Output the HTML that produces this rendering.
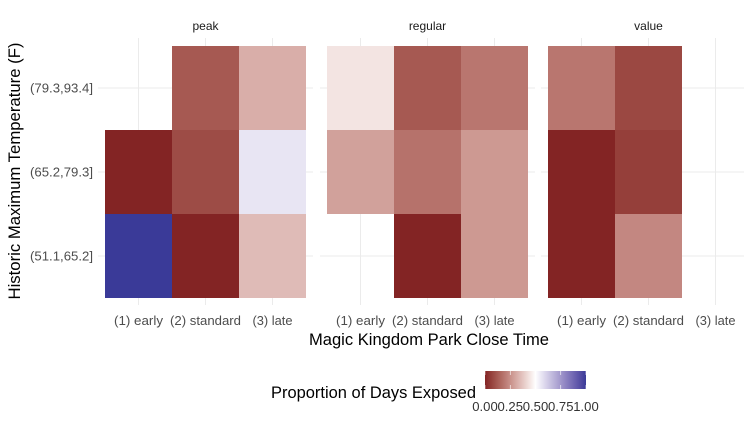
<!DOCTYPE html>
<html><head><meta charset="utf-8"><style>
body{margin:0;background:#fff;}
svg{display:block;font-family:"Liberation Sans",Arial,sans-serif;}
</style></head><body>
<svg id="c" width="744" height="426"></svg>
<script>
const facets=["peak","regular","value"];
const closeTimes=["(1) early","(2) standard","(3) late"];
const tempBins=["(51.1,65.2]","(65.2,79.3]","(79.3,93.4]"];
// values[facet][tempBin][closeTime], null = missing
const peakValues=[[1.0,0.0,0.35],[0.0,0.09,0.56],[null,0.12,0.32]];
const regularValues=[[null,0.0,0.27],[0.29,0.18,0.27],[0.44,0.12,0.19]];
const valueValues=[[0.0,0.23,null],[0.0,0.06,null],[0.19,0.08,null]];
const legendTicks=[0,0.25,0.5,0.75,1];
const legendLabels=["0.00","0.25","0.50","0.75","1.00"];
const allValues=[peakValues,regularValues,valueValues];

const NS="http://www.w3.org/2000/svg";
const svg=document.getElementById('c');
function mk(t,a,p){const e=document.createElementNS(NS,t);for(const k in a)e.setAttribute(k,a[k]);(p||svg).appendChild(e);return e;}
// Lab interpolation
function s2l(c){c/=255;return c<=0.04045?c/12.92:Math.pow((c+0.055)/1.055,2.4);}
function l2s(c){c=c<=0.0031308?12.92*c:1.055*Math.pow(c,1/2.4)-0.055;return Math.max(0,Math.min(255,Math.round(c*255)));}
function toLab(rgb){const [r,g,b]=rgb.map(s2l);
 let X=(0.4124*r+0.3576*g+0.1805*b)/0.95047,Y=0.2126*r+0.7152*g+0.0722*b,Z=(0.0193*r+0.1192*g+0.9505*b)/1.08883;
 const f=t=>t>0.008856?Math.cbrt(t):7.787*t+16/116;X=f(X);Y=f(Y);Z=f(Z);
 return [116*Y-16,500*(X-Y),200*(Y-Z)];}
function fromLab(l){let Y=(l[0]+16)/116,X=l[1]/500+Y,Z=Y-l[2]/200;
 const fi=t=>t*t*t>0.008856?t*t*t:(t-16/116)/7.787;X=fi(X)*0.95047;Y=fi(Y);Z=fi(Z)*1.08883;
 const r=3.2406*X-1.5372*Y-0.4986*Z,g=-0.9689*X+1.8758*Y+0.0415*Z,b=0.0557*X-0.2040*Y+1.0570*Z;
 return [l2s(r),l2s(g),l2s(b)];}
const lo=toLab([131,36,36]),mid=toLab([255,255,255]),hi=toLab([58,58,152]);
function color(v){let a,b,t;if(v<0.5){a=lo;b=mid;t=v/0.5;}else{a=mid;b=hi;t=(v-0.5)/0.5;}
 return `rgb(${fromLab(a.map((x,i)=>x+(b[i]-x)*t)).join(',')})`;}
const panelX0=[105,327,548], cellW=67, cellH=84, yTop=46;
const tickW={"(1) early":49,"(2) standard":71,"(3) late":40};
function xPos(f,j){return panelX0[f]+j*cellW;}
function yPos(i){return yTop+(2-i)*cellH;}
const grid=mk('g',{});  
facets.forEach((fname,f)=>{
  const x0=panelX0[f]-7,x1=Math.min(744,panelX0[f]+3*cellW+7);
  tempBins.forEach((tb,i)=>{mk('line',{x1:x0,x2:x1,y1:yPos(i)+cellH/2,y2:yPos(i)+cellH/2,stroke:'#ebebeb','stroke-width':1},grid);});
  closeTimes.forEach((ct,j)=>{mk('line',{x1:xPos(f,j)+cellW/2,x2:xPos(f,j)+cellW/2,y1:38,y2:305,stroke:'#ebebeb','stroke-width':1},grid);});
  const st=mk('text',{x:panelX0[f]+1.5*cellW,y:30,'text-anchor':'middle','font-size':12,fill:'#1a1a1a'});st.textContent=fname;
  
  
  closeTimes.forEach((ct,j)=>{const t=mk('text',{x:xPos(f,j)+cellW/2,y:325,'text-anchor':'middle','font-size':12.5,fill:'#4d4d4d',textLength:tickW[ct],lengthAdjust:'spacingAndGlyphs'});t.textContent=ct;
    
    });
  allValues[f].forEach((row,i)=>row.forEach((v,j)=>{if(v===null)return;
    const r=mk('rect',{x:xPos(f,j),y:yPos(i),width:cellW,height:cellH,fill:color(v)});
    
    }));
});
tempBins.forEach((tb,i)=>{const t=mk('text',{x:93,y:yPos(i)+cellH/2+4.5,'text-anchor':'end','font-size':12.5,fill:'#4d4d4d',textLength:63,lengthAdjust:'spacingAndGlyphs'});t.textContent=tb;
  
  });
const yt=mk('text',{x:0,y:0,transform:'translate(20,171) rotate(-90)','text-anchor':'middle','font-size':16.5,fill:'#000',textLength:257,lengthAdjust:'spacingAndGlyphs'});yt.textContent='Historic Maximum Temperature (F)';


const xt=mk('text',{x:429,y:345,'text-anchor':'middle','font-size':16.5,fill:'#000',textLength:240,lengthAdjust:'spacingAndGlyphs'});xt.textContent='Magic Kingdom Park Close Time';


// legend
const lt=mk('text',{x:271,y:398,'font-size':16.5,fill:'#000',textLength:205,lengthAdjust:'spacingAndGlyphs'});lt.textContent='Proportion of Days Exposed';


const defs=mk('defs',{});const lg=mk('linearGradient',{id:'g',x1:0,x2:1,y1:0,y2:0},defs);
for(let k=0;k<=20;k++)mk('stop',{offset:k/20,'stop-color':color(k/20)},lg);
const lb=mk('rect',{x:485,y:371,width:101,height:18,fill:'url(#g)'});


legendTicks.forEach((v,k)=>{const x=485+v*101;
  mk('line',{x1:x,x2:x,y1:371,y2:375,stroke:'#fff','stroke-width':0.6});
  mk('line',{x1:x,x2:x,y1:385,y2:389,stroke:'#fff','stroke-width':0.6});
  const t=mk('text',{x:x,y:411,'text-anchor':'middle','font-size':12.5,fill:'#333',textLength:25.5,lengthAdjust:'spacingAndGlyphs'});t.textContent=legendLabels[k];
  
  });
</script>
</body></html>
